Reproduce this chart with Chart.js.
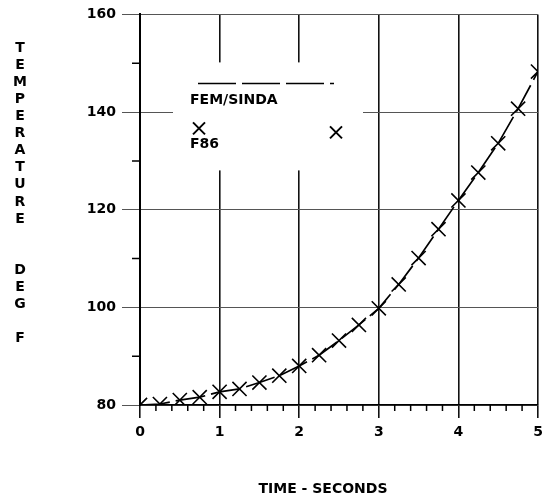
<!DOCTYPE html>
<html>
<head>
<meta charset="utf-8">
<title>Temperature vs time</title>
<script src="https://cdn.jsdelivr.net/npm/chart.js@4.4.1/dist/chart.umd.min.js"></script>
<style>
  body { margin: 0; background: #fff; }
</style>
</head>
<body>
<canvas id="tempChart" width="555" height="501"></canvas>
<script>
// values
const timeSec = [0, 0.25, 0.5, 0.75, 1, 1.25, 1.5, 1.75, 2, 2.25, 2.5, 2.75, 3, 3.25, 3.5, 3.75, 4, 4.25, 4.5, 4.75, 5];
const femSinda = [80, 80.2, 81.0, 81.6, 82.7, 83.3, 84.6, 86.0, 88.0, 90.2, 93.2, 96.4, 99.8, 104.7, 110.1, 116.0, 121.9, 127.6, 133.6, 140.7, 148.3];
const f86 = [80, 80.2, 81.0, 81.6, 82.7, 83.3, 84.6, 86.0, 88.0, 90.2, 93.2, 96.4, 99.8, 104.7, 110.1, 116.0, 121.9, 127.6, 133.6, 140.7, 148.3];
const xMinor = [0.2, 0.4, 0.6, 0.8, 1.2, 1.4, 1.6, 1.8, 2.2, 2.4, 2.6, 2.8, 3.2, 3.4, 3.6, 3.8, 4.2, 4.4, 4.6, 4.8];
const yMinor = [90, 110, 130, 150];
const yTitle = 'TEMPERATURE  DEG F';
const xTitle = 'TIME - SECONDS';

const FONT = "'DejaVu Sans', sans-serif";
const INK = '#000';

function xMark(ctx, x, y, r) {
  ctx.beginPath();
  ctx.moveTo(x - r, y - r);
  ctx.lineTo(x + r, y + r);
  ctx.moveTo(x + r, y - r);
  ctx.lineTo(x - r, y + r);
  ctx.stroke();
}

// legend box that blanks the grid behind it
const legendBox = {
  id: 'legendBox',
  beforeDatasetsDraw(chart) {
    const ctx = chart.ctx;
    const a = chart.chartArea;
    const bx = a.left + 33, by = a.top + 48;
    ctx.save();
    ctx.fillStyle = '#fff';
    ctx.fillRect(bx, by, 190, 108);

    ctx.strokeStyle = INK;
    ctx.lineWidth = 1.5;
    ctx.setLineDash([38, 6]);
    ctx.beginPath();
    ctx.moveTo(a.left + 58, a.top + 69);
    ctx.lineTo(a.left + 194, a.top + 69);
    ctx.stroke();
    ctx.setLineDash([]);

    ctx.fillStyle = INK;
    ctx.font = 'bold 14px ' + FONT;
    ctx.textBaseline = 'middle';
    ctx.textAlign = 'left';
    ctx.fillText('FEM/SINDA', a.left + 50, a.top + 86);
    ctx.fillText('F86', a.left + 50, a.top + 130);

    ctx.lineWidth = 2;
    xMark(ctx, a.left + 59, a.top + 114, 6);
    xMark(ctx, a.left + 196, a.top + 118, 6);
    ctx.restore();
  }
};

// minor ticks and the plotter-style axis titles
const axisExtras = {
  id: 'axisExtras',
  afterDraw(chart) {
    const ctx = chart.ctx;
    const xs = chart.scales.x, ys = chart.scales.y;
    const a = chart.chartArea;
    ctx.save();
    ctx.strokeStyle = INK;
    ctx.lineWidth = 1.5;
    ctx.beginPath();
    xMinor.forEach(v => {
      const px = xs.getPixelForValue(v);
      ctx.moveTo(px, a.bottom);
      ctx.lineTo(px, a.bottom + 6);
    });
    yMinor.forEach(v => {
      const py = ys.getPixelForValue(v);
      ctx.moveTo(a.left - 8, py);
      ctx.lineTo(a.left, py);
    });
    ctx.stroke();

    ctx.fillStyle = INK;
    ctx.font = 'bold 14px ' + FONT;
    ctx.textAlign = 'center';
    ctx.textBaseline = 'middle';
    [...yTitle].forEach((ch, i) => {
      if (ch !== ' ') ctx.fillText(ch, 20, 48 + i * 17.1);
    });
    ctx.fillText(xTitle, a.left + 183, 489);
    ctx.restore();
  }
};

const ctx = document.getElementById('tempChart').getContext('2d');
new Chart(ctx, {
  type: 'scatter',
  data: {
    datasets: [
      {
        label: 'FEM/SINDA',
        data: timeSec.map((t, i) => ({ x: t, y: femSinda[i] })),
        showLine: true,
        borderColor: INK,
        borderWidth: 1.7,
        borderDash: [30, 6],
        pointRadius: 0,
        tension: 0
      },
      {
        label: 'F86',
        data: timeSec.map((t, i) => ({ x: t, y: f86[i] })),
        showLine: false,
        pointStyle: 'crossRot',
        pointRadius: 10,
        pointBorderColor: INK,
        pointBorderWidth: 1.6
      }
    ]
  },
  options: {
    responsive: false,
    animation: false,
    layout: { padding: { top: 14, right: 17, left: 0, bottom: 0 } },
    plugins: {
      legend: { display: false },
      tooltip: { enabled: false }
    },
    scales: {
      x: {
        type: 'linear',
        min: 0,
        max: 5,
        afterFit(scale) { scale.height = 96; },
        ticks: {
          stepSize: 1,
          color: INK,
          padding: 6,
          font: { family: FONT, size: 14, weight: 'bold' }
        },
        grid: { color: '#111', lineWidth: 1.6, tickLength: 13 },
        border: { color: INK, width: 1.5 }
      },
      y: {
        min: 80,
        max: 160,
        afterFit(scale) { scale.width = 140; },
        ticks: {
          stepSize: 20,
          color: INK,
          padding: 6,
          font: { family: FONT, size: 14, weight: 'bold' }
        },
        grid: { color: '#555', lineWidth: 1, tickLength: 18 },
        border: { color: INK, width: 2 }
      }
    }
  },
  plugins: [legendBox, axisExtras]
});
</script>
</body>
</html>
